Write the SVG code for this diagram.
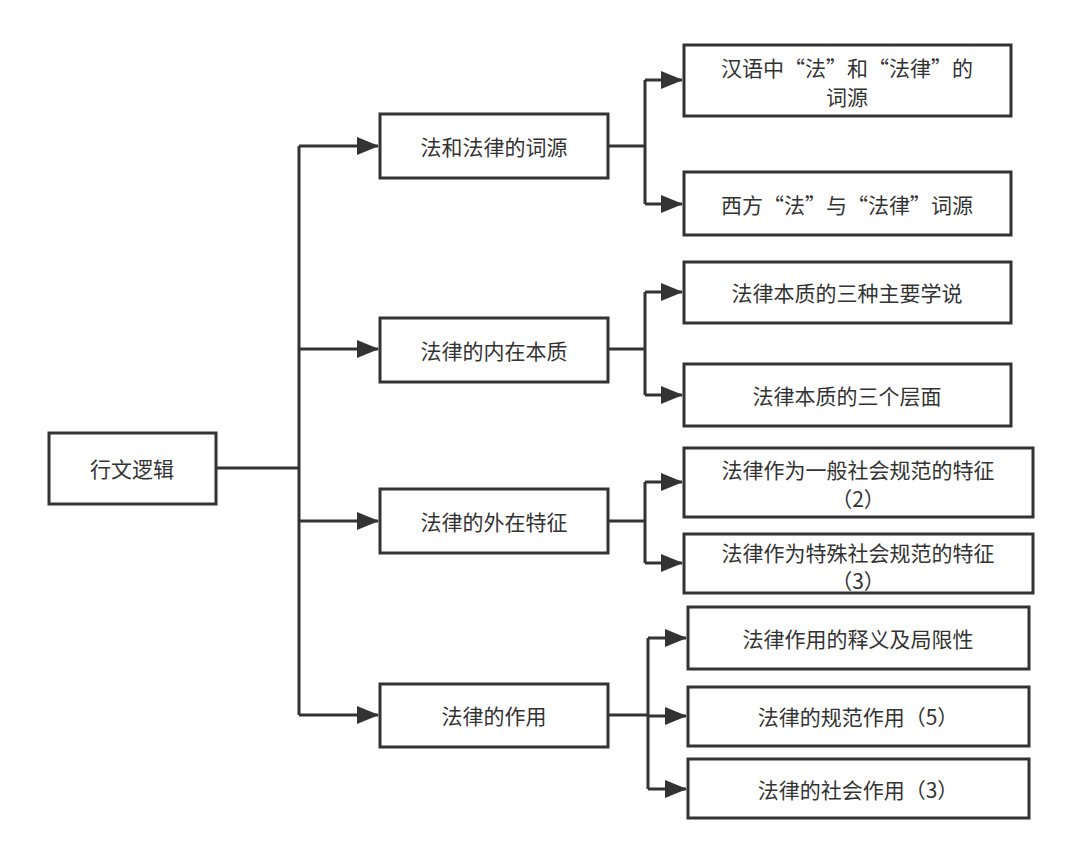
<svg xmlns="http://www.w3.org/2000/svg" width="1080" height="862" viewBox="0 0 1080 862">
<defs>
<marker id="a" markerWidth="22" markerHeight="18" refX="21" refY="9" orient="auto" markerUnits="userSpaceOnUse" viewBox="0 0 22 18"><path d="M0,0 L22,9 L0,18 Z" fill="#333"/></marker>
<style>
rect{fill:#fff;stroke:#333;stroke-width:3}
text{font-family:"Noto Sans CJK SC","Noto Sans",sans-serif;font-size:21px;fill:#333;text-anchor:middle;dominant-baseline:central}
.c path{fill:none;stroke:#333;stroke-width:3}
.c .ar{marker-end:url(#a)}
</style>
</defs>
<rect width="1080" height="862" style="fill:#fff;stroke:none"/>
<g class="c">
<path d="M216,468 H299 M299,146 V715"/>
<path class="ar" d="M299,146 H378"/><path class="ar" d="M299,349 H378"/><path class="ar" d="M299,521 H378"/><path class="ar" d="M299,715 H378"/>
<path d="M608,146 H645 M645,80 V204"/><path class="ar" d="M645,80 H682"/><path class="ar" d="M645,204 H682"/>
<path d="M608,349 H645 M645,292 V395"/><path class="ar" d="M645,292 H682"/><path class="ar" d="M645,395 H682"/>
<path d="M608,521 H645 M645,482 V563"/><path class="ar" d="M645,482 H682"/><path class="ar" d="M645,563 H682"/>
<path d="M608,715 H648 M648,638 V789"/><path class="ar" d="M648,638 H686"/><path class="ar" d="M648,716 H686"/><path class="ar" d="M648,789 H686"/>
</g>
<g id="root"><rect x="49" y="433" width="167" height="71"/><text x="132" y="468">行文逻辑</text></g>
<g id="n1"><rect x="380" y="114" width="228" height="64"/><text x="494" y="146">法和法律的词源</text></g>
<g id="n2"><rect x="380" y="318" width="228" height="64"/><text x="494" y="350">法律的内在本质</text></g>
<g id="n3"><rect x="380" y="489" width="228" height="64"/><text x="494" y="521">法律的外在特征</text></g>
<g id="n4"><rect x="380" y="684" width="228" height="63"/><text x="494" y="715">法律的作用</text></g>
<g id="n11"><rect x="684" y="45" width="327" height="71"/><text x="847" y="67">汉语中“法”和“法律”的</text><text x="847" y="96">词源</text></g>
<g id="n12"><rect x="684" y="172" width="327" height="63"/><text x="847" y="204">西方“法”与“法律”词源</text></g>
<g id="n21"><rect x="684" y="262" width="327" height="61"/><text x="847" y="292">法律本质的三种主要学说</text></g>
<g id="n22"><rect x="684" y="364" width="327" height="62"/><text x="847" y="395">法律本质的三个层面</text></g>
<g id="n31"><rect x="684" y="448" width="349" height="69"/><text x="858" y="469">法律作为一般社会规范的特征</text><text x="858" y="498">（2）</text></g>
<g id="n32"><rect x="684" y="534" width="349" height="59"/><text x="858" y="552">法律作为特殊社会规范的特征</text><text x="858" y="580">（3）</text></g>
<g id="n41"><rect x="688" y="607" width="341" height="62"/><text x="858" y="638">法律作用的释义及局限性</text></g>
<g id="n42"><rect x="688" y="687" width="341" height="59"/><text x="858" y="716">法律的规范作用（5）</text></g>
<g id="n43"><rect x="688" y="759" width="341" height="59"/><text x="858" y="789">法律的社会作用（3）</text></g>
</svg>
